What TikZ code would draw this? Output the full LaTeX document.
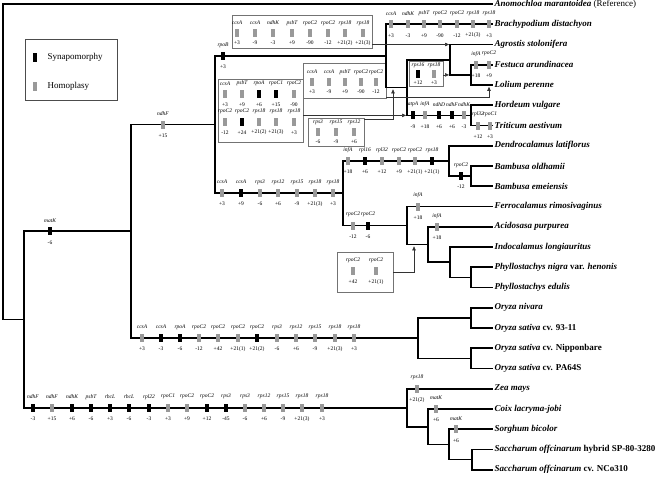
\documentclass[tikz,border=0pt]{standalone}
\usepackage{fontspec}
\setmainfont{Liberation Serif}
\usetikzlibrary{arrows.meta}

\definecolor{hom}{gray}{0.6}
\colorlet{syn}{black}

\tikzset{
  tree/.style={line width=1.7pt},
  bar/.style={minimum width=4.6pt, minimum height=8pt, inner sep=0pt, draw=none},
  gene/.style={font=\fontsize{5.5}{6}\selectfont\itshape, inner sep=0pt},
  val/.style={font=\fontsize{5.5}{6}\selectfont, inner sep=0pt},
  taxon/.style={font=\fontsize{9}{11}\selectfont\bfseries\itshape, anchor=west, inner sep=1.5pt},
  evbox/.style={draw=black!55, line width=0.7pt, inner sep=0pt},
  link/.style={line width=0.6pt, draw=black!80, -{Triangle[length=4pt,width=3.4pt]}},
  legtext/.style={font=\fontsize{9}{11}\selectfont, anchor=west},
}

% indel: [offset]{name}{x}{y}{colour}{gene}{size}
\newcommand{\indel}[7][11]{%
  \node[bar, fill=#5] (#2) at (#3,#4) {};
  \node[gene] (#2-g) at (#3,#4-#1) {#6};
  \node[val] (#2-v) at (#3,#4+#1) {#7};
}

\begin{document}
\begin{tikzpicture}[x=1pt, y=-1pt]
  \useasboundingbox (0,0) rectangle (662,477);

  % legend
  \node[draw=black!70, line width=0.7pt, minimum width=92pt, minimum height=61pt] (legend) at (71,69.5) {};
  \node[bar, fill=syn, minimum height=9pt] (legSyn) at (35,57) {};
  \node[legtext] (legSynT) at (44,57) {Synapomorphy};
  \node[bar, fill=hom, minimum height=9pt] (legHom) at (35,86) {};
  \node[legtext] (legHomT) at (44,86) {Homoplasy};

  % taxa
  \foreach \n/\s [count=\i from 0] in {
      tAnom/{Anomochloa marantoidea {\mdseries\upshape (Reference)}},
      tBrach/{Brachypodium distachyon}, tAgro/{Agrostis stolonifera},
      tFest/{Festuca arundinacea}, tLol/{Lolium perenne},
      tHord/{Hordeum vulgare}, tTrit/{Triticum aestivum},
      tDend/{Dendrocalamus latiflorus}, tBold/{Bambusa oldhamii},
      tBeme/{Bambusa emeiensis}, tFerr/{Ferrocalamus rimosivaginus},
      tAcid/{Acidosasa purpurea}, tIndo/{Indocalamus longiauritus},
      tPnig/{Phyllostachys nigra {\upshape var.} henonis},
      tPedu/{Phyllostachys edulis}, tOniv/{Oryza nivara},
      tOind/{Oryza sativa {\upshape cv. 93-11}},
      tOnip/{Oryza sativa {\upshape cv. Nipponbare}},
      tOpa/{Oryza sativa {\upshape cv. PA64S}}, tZea/{Zea mays},
      tCoix/{Coix lacryma-jobi}, tSorg/{Sorghum bicolor},
      tSsp/{Saccharum offcinarum {\upshape hybrid SP-80-3280}},
      tSnco/{Saccharum offcinarum {\upshape cv. NCo310}}}
    \node[taxon] (\n) at (493,4+20.25*\i) {\s};

  % internal nodes
  \coordinate (nRoot) at (3,160);
  \coordinate (nIng) at (24,319.5);
  \coordinate (nBEP) at (131,231.3);
  \coordinate (nBP) at (215,124.5);
  \coordinate (nPoo) at (386,55.9);
  \coordinate (nRest) at (407,87.5);
  \coordinate (nAg) at (450,59.7);
  \coordinate (nFL) at (471,74.9);
  \coordinate (nHT) at (471,115.4);
  \coordinate (nBam) at (343,193.2);
  \coordinate (nTrop) at (449,160.9);
  \coordinate (nBambusa) at (471,176.1);
  \coordinate (nTemp) at (407,225.5);
  \coordinate (nAcid) at (428,244.5);
  \coordinate (nIndo) at (450,262.2);
  \coordinate (nPhyl) at (471,277.4);
  \coordinate (nOry) at (418,338.1);
  \coordinate (nOn) at (471,317.9);
  \coordinate (nNip) at (471,358.4);
  \coordinate (nPac) at (407,407.7);
  \coordinate (nCoix) at (428,426.7);
  \coordinate (nSorg) at (449,444.4);
  \coordinate (nSacc) at (472,459.6);

  % boxes of homoplasious events
  \node[evbox, minimum width=140pt, minimum height=33pt] (box1) at (302,31.5) {};
  \node[evbox, minimum width=83pt, minimum height=35pt] (boxA) at (344.5,80.5) {};
  \node[evbox, minimum width=85pt, minimum height=63pt] (boxB) at (260.5,110.5) {};
  \node[evbox, minimum width=56pt, minimum height=28pt] (boxC) at (336,132) {};
  \node[evbox, minimum width=34pt, minimum height=25pt] (boxD) at (426,73.5) {};
  \node[evbox, minimum width=56pt, minimum height=40pt] (boxE) at (365,272) {};

  % branches
  \draw[tree]
    (nRoot) |- (tAnom.west)  (nRoot) |- (nIng)
    (nIng) |- (nBEP)  (nIng) |- (nPac)
    (nBEP) |- (nBP)  (nBEP) |- (nOry)
    (nBP) |- (nPoo)  (nBP) |- (nBam)
    (nPoo) |- (tBrach.west)  (nPoo) |- (nRest)
    (nRest) |- (nAg)  (nRest) |- (nHT)
    (nAg) |- (tAgro.west)  (nAg) |- (nFL)
    (nFL) |- (tFest.west)  (nFL) |- (tLol.west)
    (nHT) |- (tHord.west)  (nHT) |- (tTrit.west)
    (nBam) |- (nTrop)  (nBam) |- (nTemp)
    (nTrop) |- (tDend.west)  (nTrop) |- (nBambusa)
    (nBambusa) |- (tBold.west)  (nBambusa) |- (tBeme.west)
    (nTemp) |- (tFerr.west)  (nTemp) |- (nAcid)
    (nAcid) |- (tAcid.west)  (nAcid) |- (nIndo)
    (nIndo) |- (tIndo.west)  (nIndo) |- (nPhyl)
    (nPhyl) |- (tPnig.west)  (nPhyl) |- (tPedu.west)
    (nOry) |- (nOn)  (nOry) |- (nNip)
    (nOn) |- (tOniv.west)  (nOn) |- (tOind.west)
    (nNip) |- (tOnip.west)  (nNip) |- (tOpa.west)
    (nPac) |- (tZea.west)  (nPac) |- (nCoix)
    (nCoix) |- (tCoix.west)  (nCoix) |- (nSorg)
    (nSorg) |- (tSorg.west)  (nSorg) |- (nSacc)
    (nSacc) |- (tSsp.west)  (nSacc) |- (tSnco.west);

  % connectors from the boxes
  \coordinate (cLol) at (489,86.8);
  \coordinate (cRest) at (393,89.3);
  \coordinate (cAcid) at (414,246.3);
  \draw[link, shorten >=0.9pt] (box1.east |- tAgro.west) -- (nAg |- tAgro.west);
  \draw[link, shorten >=0.9pt] (boxD.east |- nFL) -- (nAg |- nFL);
  \draw[link] ([yshift=1pt]boxA.south east) -| (cLol);
  \draw[link, shorten >=0.9pt] (boxB.east |- nHT) -- (nRest |- nHT);
  \draw[link] ([yshift=-2pt]boxC.north east) -| (cRest);
  \draw[link] (boxE.east) -| (cAcid);

  % indels on the branches
  \foreach \px/\cl/\gn/\sz [count=\i] in {33/syn/ndhF/-3, 52/hom/ndhF/+15,
      72/syn/ndhK/+6, 91/syn/psbT/-6, 110/syn/rbcL/+3, 129/syn/rbcL/-6,
      149/syn/rpl22/-3, 168/hom/rpoC1/+3, 187/hom/rpoC2/+9, 207/syn/rpoC2/+12,
      226/syn/rps3/-45, 245/hom/rps3/-6, 264/hom/rps12/+6, 283/hom/rps15/-9,
      302/hom/rps18/+21(3), 322/hom/rps18/+3}
    {\indel{pac\i}{\px}{407.7}{\cl}{\gn}{\sz}}
  \foreach \px/\cl/\gn/\sz [count=\i] in {142/hom/ccsA/+3, 161/syn/ccsA/-3,
      180/syn/rpoA/-6, 199/hom/rpoC2/-12, 218/hom/rpoC2/+42,
      238/hom/rpoC2/+21(1), 257/syn/rpoC2/+21(2), 277/hom/rps3/-6,
      296/hom/rps12/+6, 315/hom/rps15/-9, 335/hom/rps18/+21(3), 354/hom/rps18/+3}
    {\indel{ory\i}{\px}{338.1}{\cl}{\gn}{\sz}}
  \indel{bep}{50}{231.3}{syn}{matK}{-6}
  \indel{bp}{163}{124.5}{hom}{ndhF}{+15}
  \indel{poo}{223}{55.9}{syn}{rpoB}{+3}
  \foreach \px/\cl/\gn/\sz [count=\i] in {222/hom/ccsA/+3, 241/syn/ccsA/+9,
      260/hom/rps3/-6, 278/hom/rps12/+6, 297/hom/rps15/-9,
      315/hom/rps18/+21(3), 333/hom/rps18/+3}
    {\indel{bam\i}{\px}{193.2}{\cl}{\gn}{\sz}}
  \foreach \px/\cl/\gn/\sz [count=\i] in {348/hom/infA/+18, 365/syn/rpl16/+6,
      382/hom/rpl32/+12, 399/hom/rpoC2/+9, 415/hom/rpoC2/+21(1),
      432/syn/rps18/+21(1)}
    {\indel{trop\i}{\px}{160.9}{\cl}{\gn}{\sz}}
  \indel{bmb}{461}{176.1}{syn}{rpoC2}{-12}
  \indel{temA}{353}{225.5}{hom}{rpoC2}{-12}
  \indel{temB}{368}{225.5}{syn}{rpoC2}{-6}
  \indel{ferr}{418}{206.5}{hom}{infA}{+18}
  \indel{acid}{437}{226.75}{hom}{infA}{+18}
  \foreach \px/\gn/\sz [count=\i] in {391/ccsA/+3, 408/ndhK/-3, 424/psbT/+9,
      440/rpoC2/-90, 457/rpoC2/-12, 473/rps18/+21(3), 489/rps18/+3}
    {\indel{bra\i}{\px}{24.25}{hom}{\gn}{\sz}}
  \indel{fesA}{476}{64.75}{hom}{infA}{+18}
  \indel{fesB}{489}{64.75}{hom}{rpoC2}{+9}
  \indel{triA}{478}{125.5}{hom}{rpl32}{+12}
  \indel{triB}{490}{125.5}{hom}{rpoC1}{+3}
  \foreach \px/\cl/\gn/\sz [count=\i] in {413/syn/atpA/-9, 425/hom/infA/+18,
      439/syn/ndhD/+6, 452/syn/ndhF/+6, 464/hom/ndhK/-3}
    {\indel{ht\i}{\px}{115.4}{\cl}{\gn}{\sz}}
  \indel{zea}{417}{388.75}{hom}{rps18}{+21(2)}
  \indel{coix}{436}{409}{hom}{matK}{+6}
  \indel{sorg}{456}{429.25}{hom}{matK}{+6}

  % indels inside the boxes
  \foreach \px/\gn/\sz [count=\i] in {237/ccsA/+3, 255/ccsA/-9, 273/ndhK/-3,
      292/psbT/+9, 310/rpoC2/-90, 328/rpoC2/-12, 345/rps18/+21(2), 363/rps18/+21(3)}
    {\indel[10]{xa\i}{\px}{33}{hom}{\gn}{\sz}}
  \foreach \px/\gn/\sz [count=\i] in {312/ccsA/+3, 329/ccsA/-9, 345/psbT/+9,
      361/rpoC2/-90, 376/rpoC2/-12}
    {\indel[10]{xb\i}{\px}{82}{hom}{\gn}{\sz}}
  \foreach \px/\cl/\gn/\sz [count=\i] in {225/hom/ccsA/+3, 242/hom/psbT/+9,
      259/syn/rpoA/+6, 276/syn/rpoC1/+15, 294/hom/rpoC2/-90}
    {\indel[10.5]{xc\i}{\px}{94}{\cl}{\gn}{\sz}}
  \foreach \px/\cl/\gn/\sz [count=\i] in {225/hom/rpoC2/-12, 242/syn/rpoC2/+24,
      259/hom/rps18/+21(2), 276/hom/rps18/+21(3), 294/hom/rps18/+3}
    {\indel[10.5]{xd\i}{\px}{122}{\cl}{\gn}{\sz}}
  \foreach \px/\gn/\sz [count=\i] in {318/rps3/-6, 336/rps15/-9, 354/rps12/+6}
    {\indel[9.5]{xe\i}{\px}{132}{hom}{\gn}{\sz}}
  \indel[8.5]{xf1}{418}{74}{syn}{rps16}{+12}
  \indel[8.5]{xf2}{434}{74}{hom}{rps18}{+3}
  \indel{xg1}{353}{271}{hom}{rpoC2}{+42}
  \indel{xg2}{376}{271}{hom}{rpoC2}{+21(1)}
\end{tikzpicture}
\end{document}
